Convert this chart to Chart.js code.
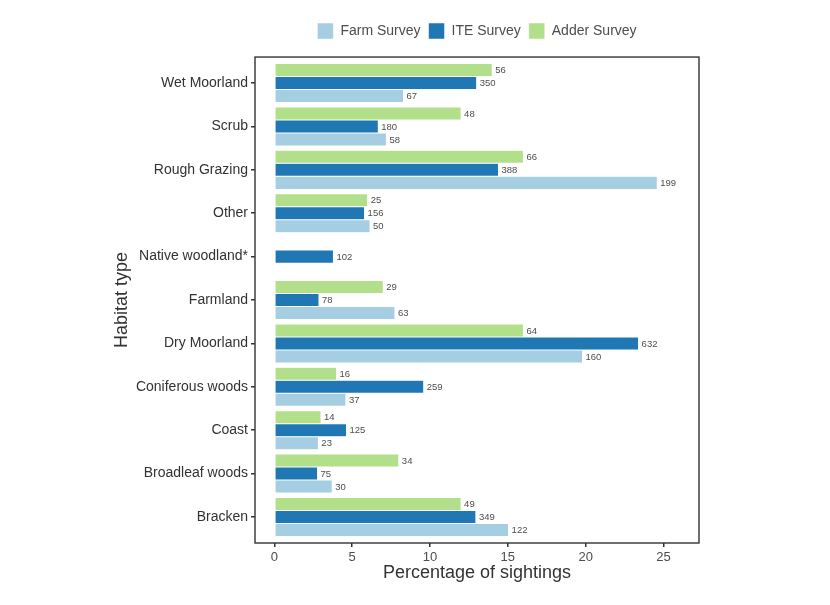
<!DOCTYPE html>
<html>
<head>
<meta charset="utf-8">
<script src="https://cdn.jsdelivr.net/npm/chart.js@4"></script>
<style>
  html, body { margin: 0; padding: 0; background: #fff; }
  #wrap { width: 830px; height: 605px; }
</style>
</head>
<body>
<div id="wrap"><canvas id="myChart" width="830" height="605"></canvas></div>
<script>
// categories, top to bottom
const habitats = ["Wet Moorland", "Scrub", "Rough Grazing", "Other", "Native woodland*",
  "Farmland", "Dry Moorland", "Coniferous woods", "Coast", "Broadleaf woods", "Bracken"];

// percentage of sightings (bar length)
const adderPct = [14.0, 12.0, 16.0, 6.0, null, 7.0, 16.0, 4.0, 3.0, 8.0, 12.0];
const itePct = [13.0, 6.68, 14.4, 5.8, 3.8, 2.87, 23.4, 9.6, 4.64, 2.78, 12.95];
const farmPct = [8.3, 7.2, 24.6, 6.15, null, 7.75, 19.8, 4.6, 2.83, 3.72, 15.05];

// number of sightings (bar labels)
const adderN = [56, 48, 66, 25, null, 29, 64, 16, 14, 34, 49];
const iteN = [350, 180, 388, 156, 102, 78, 632, 259, 125, 75, 349];
const farmN = [67, 58, 199, 50, null, 63, 160, 37, 23, 30, 122];

const xTicks = [0, 5, 10, 15, 20, 25];

const FONT = "'Liberation Sans', Arial, sans-serif";

function toPoints(values) {
  return values.map((v, i) => ({ x: v, y: i }));
}

// draw the counts just right of each bar
const barLabels = {
  id: "barLabels",
  afterDatasetsDraw(chart) {
    const ctx = chart.ctx;
    ctx.save();
    ctx.font = "9.5px " + FONT;
    ctx.fillStyle = "#4d4d4d";
    ctx.textAlign = "left";
    ctx.textBaseline = "middle";
    chart.data.datasets.forEach((ds, d) => {
      const meta = chart.getDatasetMeta(d);
      meta.data.forEach((bar, i) => {
        const n = ds.counts[i];
        if (n === null || ds.data[i].x === null) return;
        ctx.fillText(String(n), bar.x + 3, bar.y + 0.5);
      });
    });
    ctx.restore();
  }
};

// box round the plot area
const panelBorder = {
  id: "panelBorder",
  afterDraw(chart) {
    const a = chart.chartArea;
    const ctx = chart.ctx;
    ctx.save();
    ctx.strokeStyle = "#333";
    ctx.lineWidth = 1.4;
    ctx.strokeRect(a.left, a.top, a.right - a.left, a.bottom - a.top);
    ctx.restore();
  }
};

const datasets = [
  { label: "Adder Survey", data: toPoints(adderPct), counts: adderN, backgroundColor: "#b2df8a" },
  { label: "ITE Survey", data: toPoints(itePct), counts: iteN, backgroundColor: "#1f78b4" },
  { label: "Farm Survey", data: toPoints(farmPct), counts: farmN, backgroundColor: "#a6cee3" }
].map((ds) => Object.assign(ds, {
  borderColor: "#ffffff",
  borderWidth: 0.5,
  borderSkipped: false,
  categoryPercentage: 0.9,
  barPercentage: 1.0
}));

const ctx = document.getElementById("myChart").getContext("2d");
new Chart(ctx, {
  type: "bar",
  data: { datasets: datasets },
  plugins: [barLabels, panelBorder],
  options: {
    indexAxis: "y",
    responsive: false,
    animation: false,
    layout: { padding: { left: 111, right: 131, top: 15, bottom: 21 } },
    plugins: {
      legend: {
        position: "top",
        fullSize: false,
        reverse: true,
        labels: {
          boxWidth: 16,
          boxHeight: 16,
          padding: 8,
          color: "#4d4d4d",
          font: { family: FONT, size: 14 }
        }
      },
      // empty spacer between legend and panel
      title: {
        display: true,
        text: "",
        weight: 500,
        font: { size: 6.7 },
        padding: 0
      },
      tooltip: { enabled: false }
    },
    scales: {
      x: {
        type: "linear",
        min: -1.24,
        max: 27.28,
        afterBuildTicks: (s) => { s.ticks = xTicks.map((v) => ({ value: v })); },
        afterFit: (s) => { s.height = 41; },
        ticks: {
          color: "#4d4d4d",
          font: { family: FONT, size: 13 },
          padding: 3,
          maxRotation: 0
        },
        grid: { drawOnChartArea: false, drawTicks: true, tickLength: 4, color: "#333", lineWidth: 1.5 },
        border: { display: false },
        title: {
          display: true,
          text: "Percentage of sightings",
          color: "#333",
          font: { family: FONT, size: 18 },
          padding: { top: 0, bottom: 0 }
        }
      },
      y: {
        type: "linear",
        reverse: true,
        offset: false,
        min: -0.6,
        max: 10.6,
        afterBuildTicks: (s) => { s.ticks = habitats.map((h, i) => ({ value: i })); },
        afterFit: (s) => { s.width = 144; },
        ticks: {
          autoSkip: false,
          color: "#333",
          font: { family: FONT, size: 14 },
          padding: 3,
          callback: (v) => habitats[v]
        },
        grid: { offset: false, drawOnChartArea: false, drawTicks: true, tickLength: 4, color: "#333", lineWidth: 1.5 },
        border: { display: false },
        title: {
          display: true,
          text: "Habitat type",
          color: "#333",
          font: { family: FONT, size: 18 },
          padding: { top: 0, bottom: 0 }
        }
      }
    }
  }
});
</script>
</body>
</html>
